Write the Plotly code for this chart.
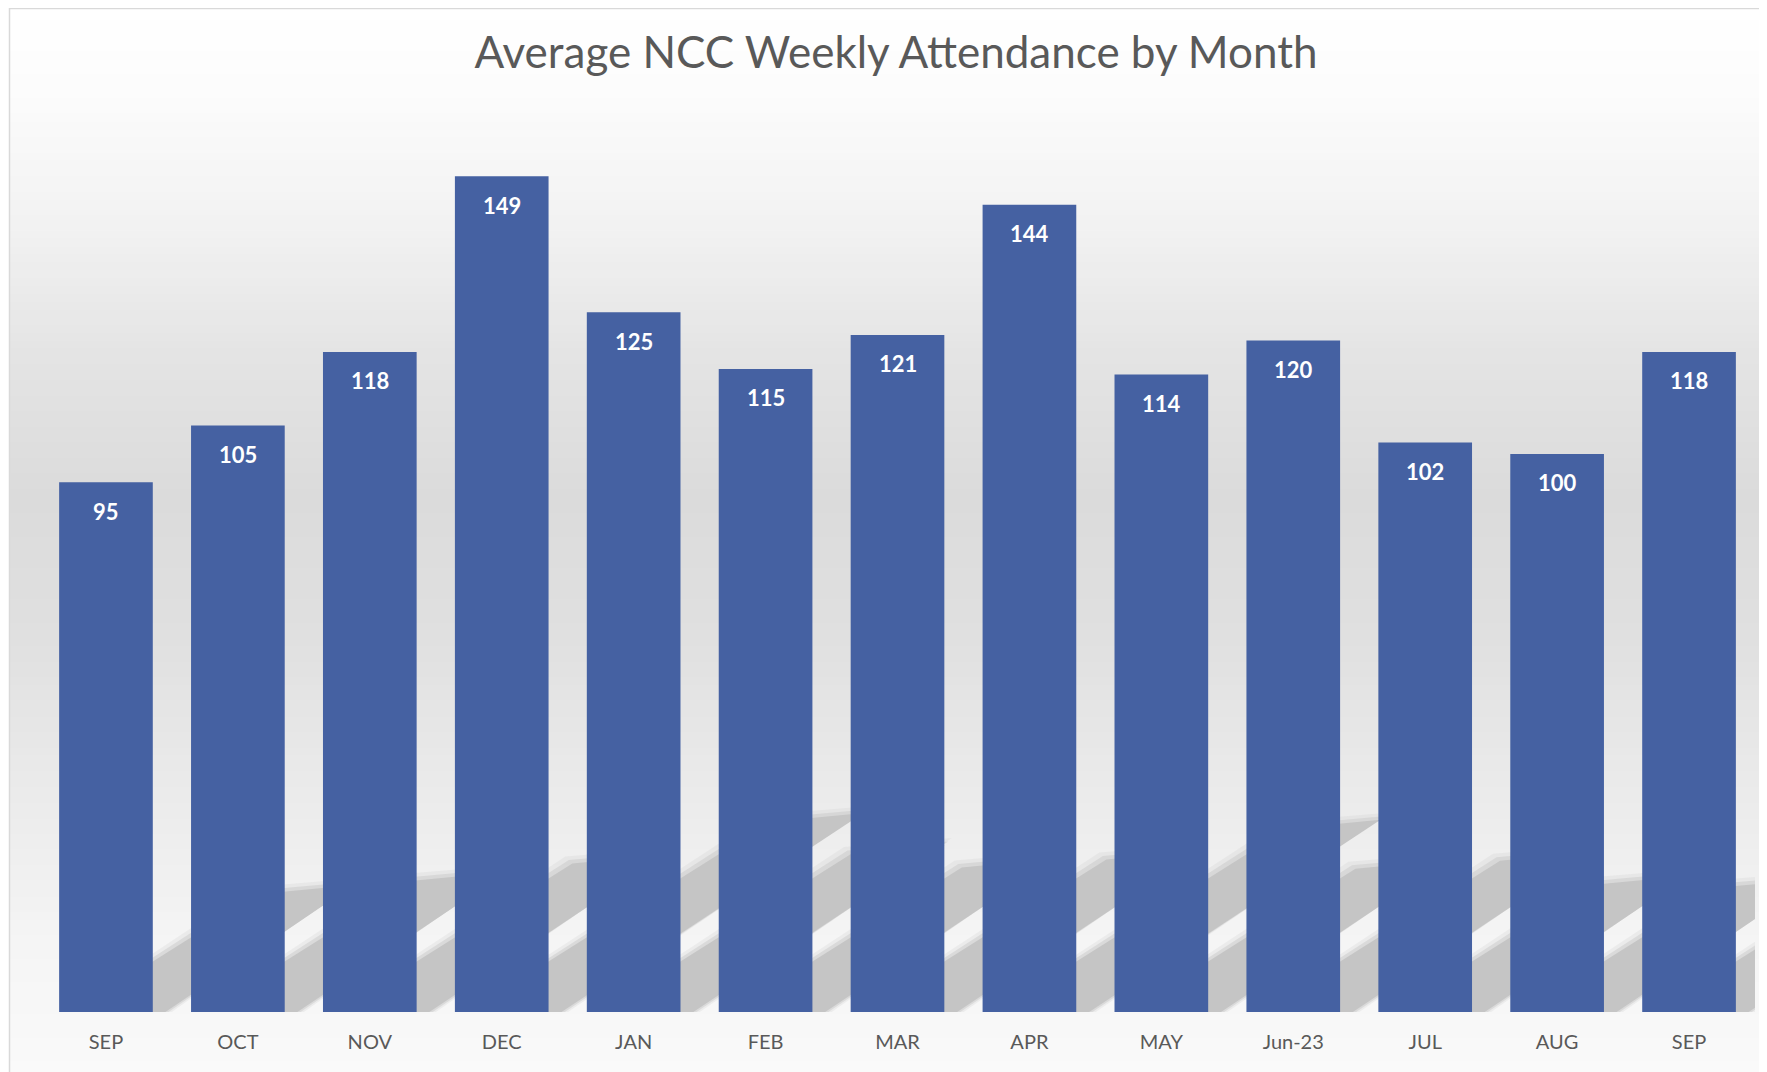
import plotly.graph_objects as go

months = ["SEP", "OCT", "NOV", "DEC", "JAN", "FEB", "MAR", "APR", "MAY", "Jun-23", "JUL", "AUG", "SEP"]
attendance = [95, 105, 118, 149, 125, 115, 121, 144, 114, 120, 102, 100, 118]
title_text = "Average NCC Weekly Attendance by Month"

W, H = 1767, 1072
OFF = 8  # page body margin
ML, MR, MT, MB = 40 - OFF, 12 + OFF, 114 - OFF, 60 + OFF
PW, PH = W - ML - MR, H - MT - MB
Y0, Y1 = 1.5, 160
BARGAP = 0.29
FONT = "Lato"

def px_x(p):
    return (p - ML) / PW

def px_y(p):
    return (H - MB - p) / PH

def hexmix(c1, c2, t):
    a = [int(c1[i:i + 2], 16) for i in (1, 3, 5)]
    b = [int(c2[i:i + 2], 16) for i in (1, 3, 5)]
    return "#%02x%02x%02x" % tuple(round(a[k] + (b[k] - a[k]) * t) for k in range(3))

bg_stops = [(0.0, "#ffffff"), (0.08, "#fcfcfc"), (0.2, "#f2f2f2"), (0.32, "#e4e4e4"),
            (0.45, "#dbdbdb"), (0.58, "#e0e0e0"), (0.72, "#ebebeb"), (0.86, "#f5f5f5"), (1.0, "#fbfbfb")]

def bg_color(f):
    for (f0, c0), (f1, c1) in zip(bg_stops, bg_stops[1:]):
        if f0 <= f <= f1:
            return hexmix(c0, c1, (f - f0) / (f1 - f0))
    return bg_stops[-1][1]

shapes = []
top_px, bot_px, left_px = 4 - OFF, H + 20, 9 - OFF
n = 140
for k in range(n):
    ya = top_px + (bot_px - top_px) * k / n
    yb = top_px + (bot_px - top_px) * (k + 1) / n
    shapes.append(dict(type="rect", xref="paper", yref="paper", layer="below",
                       x0=px_x(left_px), x1=px_x(W + 20), y0=px_y(yb + 1), y1=px_y(ya),
                       line=dict(width=0), fillcolor=bg_color((k + 0.5) / n)))
shapes.append(dict(type="rect", xref="paper", yref="paper", layer="below",
                   x0=px_x(left_px + 0.5), x1=px_x(W + 20), y0=px_y(H + 20), y1=px_y(0.5),
                   line=dict(color="#d9d9d9", width=1.5), fillcolor="rgba(0,0,0,0)"))

# perspective shadows behind bars (layered to imitate blur)
px_per_cat = PW / len(months)
px_per_val = PH / (Y1 - Y0)
half = (1 - BARGAP) / 2
slope = 0.63
blur_layers = [(7, "rgba(200,200,200,0.22)"), (3.5, "rgba(198,198,198,0.45)"), (0, "rgba(197,197,197,1)")]
for i, v in enumerate(attendance):
    hs = 0.235 * v
    rise = 9 / px_per_val  # slight perspective tilt of the far edge
    dx = (hs * px_per_val / slope) / px_per_cat
    for g, col in blur_layers:
        gx = g / px_per_cat
        gy = g / px_per_val
        xa, xb = i - half - gx, i + half + gx
        path = "M %f,%f L %f,%f L %f,%f L %f,%f Z" % (
            xa, 0, xb, 0, xb + dx, hs + rise + gy, xa + dx, hs + gy)
        shapes.append(dict(type="path", xref="x", yref="y", layer="below", path=path,
                           line=dict(width=0), fillcolor=col))

x_idx = list(range(len(months)))

fig = go.Figure()
fig.add_trace(go.Bar(x=x_idx, y=attendance, marker=dict(color="#4561a2", line=dict(width=0)),
                     hoverinfo="skip"))

annotations = []
for i, v in zip(x_idx, attendance):
    annotations.append(dict(x=i, y=v, xref="x", yref="y", text="<b>%d</b>" % v, showarrow=False,
                            yshift=-29, font=dict(family=FONT, size=22, color="#ffffff")))

fig.update_layout(
    width=W, height=H,
    margin=dict(l=ML, r=MR, t=MT, b=MB),
    paper_bgcolor="#ffffff", plot_bgcolor="rgba(0,0,0,0)",
    bargap=BARGAP, showlegend=False,
    title=dict(text=title_text, x=(896 - OFF) / W, xanchor="center", y=1 - (53 - OFF) / H,
               yanchor="middle", yref="container",
               font=dict(family=FONT, size=44, color="#595959")),
    xaxis=dict(range=[-0.5, len(months) - 0.5], tickmode="array", tickvals=x_idx, ticktext=months,
               showgrid=False, zeroline=False, showline=False, ticks="outside", ticklen=12,
               tickcolor="rgba(0,0,0,0)", tickfont=dict(family=FONT, size=20, color="#595959")),
    yaxis=dict(range=[Y0, Y1], visible=False, showgrid=False, zeroline=False),
    shapes=shapes, annotations=annotations,
)

fig.write_html("out.html")
